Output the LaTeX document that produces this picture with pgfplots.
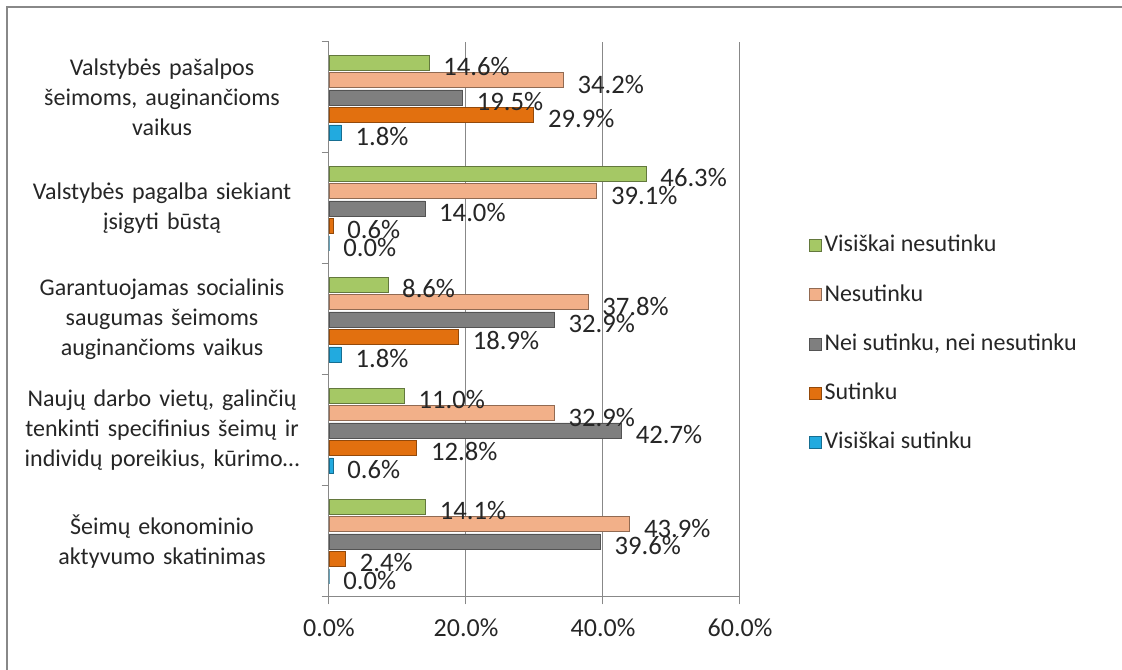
\documentclass[border=0pt]{standalone}
\usepackage{fontspec}
\setmainfont{Carlito}
\usepackage{pgfplots}
\pgfplotsset{compat=1.18}
\definecolor{cgreen}{HTML}{A5C865}
\definecolor{cpeach}{HTML}{F2B089}
\definecolor{cgray}{HTML}{7F7F7F}
\definecolor{corange}{HTML}{E2700F}
\definecolor{cblue}{HTML}{22AADF}
\definecolor{axgray}{HTML}{888888}
\definecolor{txt}{HTML}{262626}
\begin{document}
\fontsize{18pt}{22pt}\selectfont
\begin{tikzpicture}[x=0.75pt,y=0.75pt]
\useasboundingbox (-329,-73) rectangle (793,597);
\draw[line width=1.6pt, color=axgray] (-322,-73) -- (-322,590) -- (793,590);
\begin{axis}[
  at={(0,0)}, anchor=south west,
  scale only axis, width=308.25pt, height=416.25pt,
  xbar=1.85pt, bar width=11.25pt,
  xmin=0, xmax=60, ymin=-0.5, ymax=4.5,
  axis x line*=bottom, axis y line*=left,
  axis line style={axgray, line width=0.75pt},
  every tick/.style={axgray, line width=0.75pt},
  tick align=outside, major tick length=5.5pt,
  xtick={0,20,40,60},
  xmajorgrids, grid style={axgray, line width=0.75pt},
  ytick={-0.5,0.5,1.5,2.5,3.5,4.5},
  yticklabels={{Šeimų ekonominio\\aktyvumo skatinimas},
    {Naujų darbo vietų, galinčių\\tenkinti specifinius šeimų ir\\individų poreikius, kūrimo…},
    {Garantuojamas socialinis\\saugumas šeimoms\\auginančioms vaikus},
    {Valstybės pagalba siekiant\\įsigyti būstą},
    {Valstybės pašalpos\\šeimoms, auginančioms\\vaikus},{}},
  yticklabel style={text width=215pt, align=center, yshift=41.625pt, xshift=-6pt, text=txt, font=\fontsize{18pt}{22.5pt}\selectfont},
  /pgf/number format/.cd, fixed, fixed zerofill, precision=1, assume math mode=true,
  /pgfplots/.cd,
  xticklabel={\pgfmathprintnumber{\tick}\%},
  xticklabel style={yshift=-5pt, text=txt, font=\fontsize{19.5pt}{23pt}\selectfont},
  point meta=x,
  nodes near coords={\pgfmathprintnumber{\pgfplotspointmeta}\%},
  every node near coord/.append style={anchor=west, xshift=4.5pt, yshift=-3pt, text=txt, font=\fontsize{20pt}{24pt}\selectfont},
  reverse legend,
  legend image code/.code={\draw[#1] (0pt,-4.5pt) rectangle (9pt,4.5pt);},
  legend style={draw=none, fill=none, at={(1.158,0.662)}, anchor=north west, row sep=17.75pt, text=txt},
  legend cell align=left,
]
\addplot[fill=cblue, draw=cblue!65!black, line width=0.5pt]
  coordinates {(0.0,0) (0.6,1) (1.8,2) (0.0,3) (1.8,4)};
\addplot[fill=corange, draw=corange!65!black, line width=0.5pt]
  coordinates {(2.4,0) (12.8,1) (18.9,2) (0.6,3) (29.9,4)};
\addplot[fill=cgray, draw=cgray!65!black, line width=0.5pt]
  coordinates {(39.6,0) (42.7,1) (32.9,2) (14.0,3) (19.5,4)};
\addplot[fill=cpeach, draw=cpeach!60!black, line width=0.5pt]
  coordinates {(43.9,0) (32.9,1) (37.8,2) (39.1,3) (34.2,4)};
\addplot[fill=cgreen, draw=cgreen!60!black, line width=0.5pt]
  coordinates {(14.1,0) (11.0,1) (8.6,2) (46.3,3) (14.6,4)};
\legend{Visiškai sutinku, Sutinku, {Nei sutinku, nei nesutinku}, Nesutinku, Visiškai nesutinku}
\end{axis}
\end{tikzpicture}
\end{document}
